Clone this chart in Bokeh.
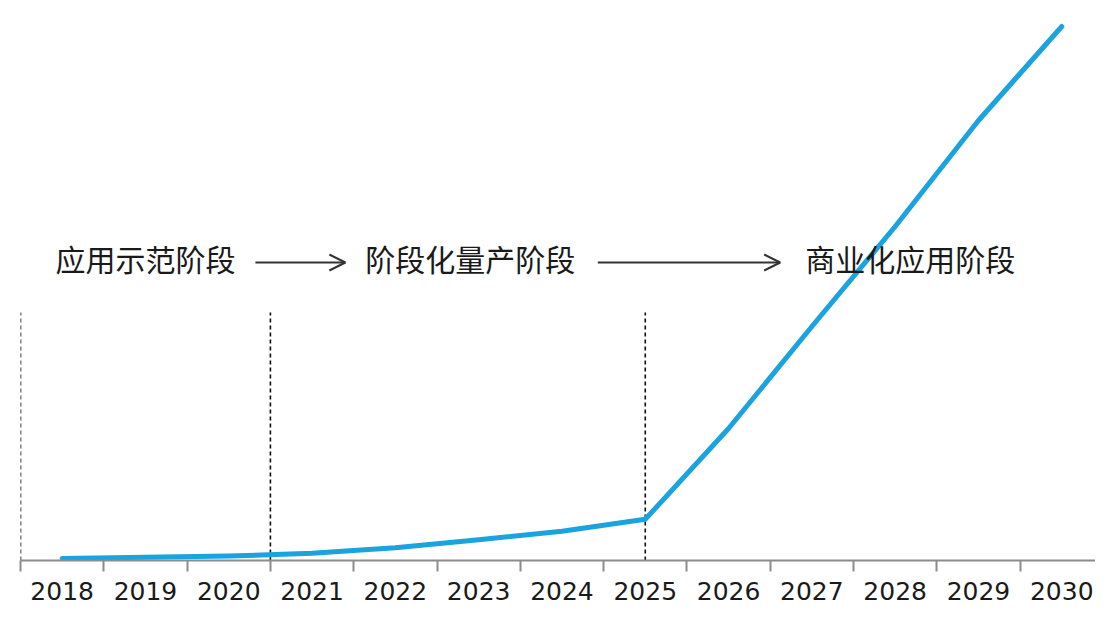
from bokeh.plotting import figure
from bokeh.models import Range1d, FixedTicker, Arrow, OpenHead
from bokeh.core.properties import value
from bokeh.embed import file_html
from bokeh.resources import INLINE

# ---- data ----
years = ["2018", "2019", "2020", "2021", "2022", "2023", "2024",
         "2025", "2026", "2027", "2028", "2029", "2030"]
market = [0.5, 0.8, 1.1, 1.8, 3.2, 5.2, 7.3, 10.3, 33.0, 58.5, 83.5, 110.0, 133.5]
stage_names = ["应用示范阶段", "阶段化量产阶段", "商业化应用阶段"]
phase_marks = [-0.5, 2.5, 7.0]   # category positions of phase boundaries

xs = list(range(len(years)))

p = figure(width=1095, height=605, output_backend="svg", toolbar_location=None,
           x_range=Range1d(-0.5, 12.405), y_range=Range1d(0, 140),
           min_border_left=20, min_border_right=0, min_border_top=0,
           min_border_bottom=45, y_axis_location=None)
p.outline_line_color = None
p.xgrid.visible = False
p.ygrid.visible = False
p.background_fill_color = "white"
p.border_fill_color = "white"

# phase dashed lines
p.segment(x0=phase_marks, y0=[0] * len(phase_marks), x1=phase_marks,
          y1=[62] * len(phase_marks), line_color="#111111", line_width=1.6,
          line_dash="4 3")

# main line
p.line(xs, market, line_color="#1AA3DF", line_width=5, line_cap="round",
       line_join="round")

# stage labels
stage_x = [1.0, 4.90, 10.18]
p.text(x=stage_x, y=[75.75] * 3, text=stage_names, text_align="center",
       text_baseline="middle", text_font=value("Noto Sans CJK SC"),
       text_font_size="30px", text_color="#1a1a1a")

for xa, xb in [(2.32, 3.40), (6.43, 8.62)]:
    p.add_layout(Arrow(end=OpenHead(size=16, line_color="#333333", line_width=2),
                       x_start=xa, y_start=74.5, x_end=xb, y_end=74.5,
                       line_color="#333333", line_width=2))

# x axis: labels at category centers, tick marks between categories
ax = p.xaxis[0]
ax.ticker = FixedTicker(ticks=xs, minor_ticks=[i - 0.5 for i in range(len(years) + 1)])
ax.major_label_overrides = {i: y for i, y in enumerate(years)}
ax.major_tick_line_color = None
ax.major_tick_out = 0
ax.major_tick_in = 0
ax.minor_tick_line_color = "#8c8c8c"
ax.minor_tick_line_width = 2
ax.minor_tick_out = 11
ax.minor_tick_in = 0
ax.axis_line_color = "#8c8c8c"
ax.axis_line_width = 2
ax.major_label_text_font = "DejaVu Sans"
ax.major_label_text_font_size = "25px"
ax.major_label_text_color = "#1a1a1a"
ax.major_label_standoff = 10

open("out.html", "w").write(file_html(p, INLINE))
